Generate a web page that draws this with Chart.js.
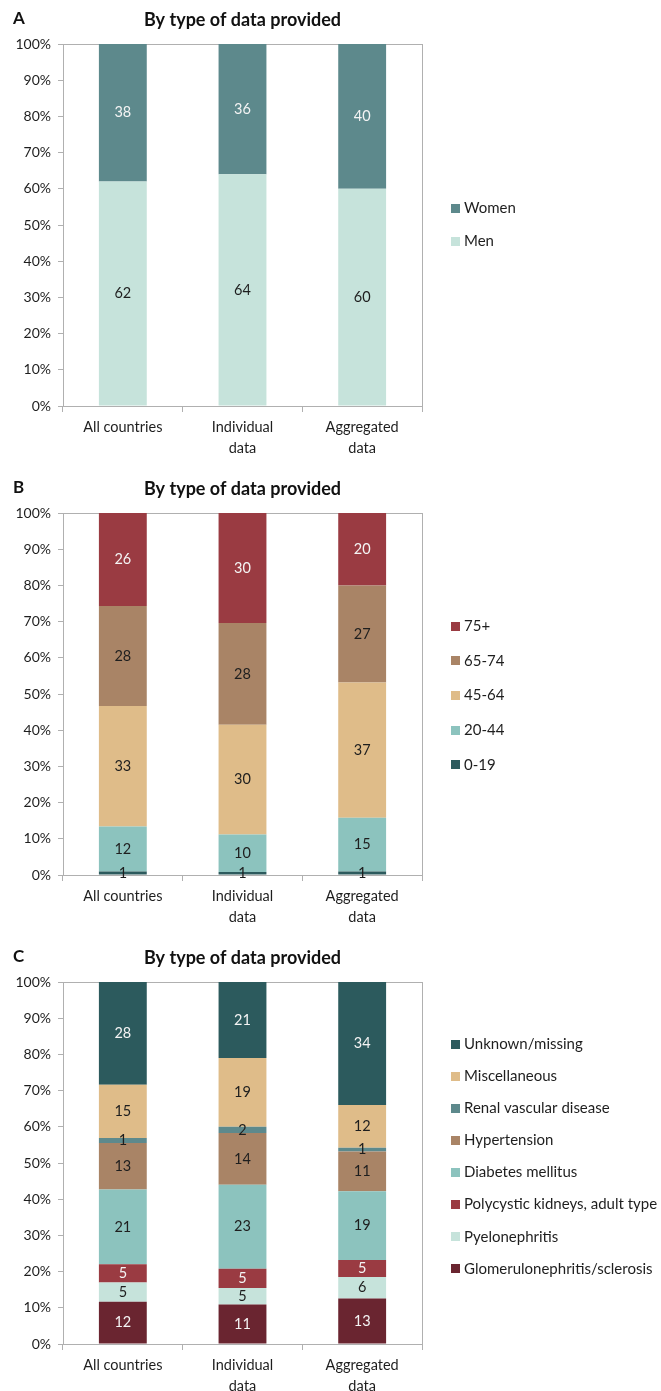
<!DOCTYPE html>
<html>
<head>
<meta charset="utf-8">
<script src="https://cdn.jsdelivr.net/npm/chart.js@4.4.0/dist/chart.umd.min.js"></script>
<style>
html, body { margin: 0; padding: 0; background: #fff; overflow: hidden; }
.panel { position: absolute; left: 0; width: 661px; height: 469px; }
</style>
</head>
<body>
<div class="panel" style="top:0px"><canvas id="chartA" width="661" height="469"></canvas></div>
<div class="panel" style="top:469px"><canvas id="chartB" width="661" height="469"></canvas></div>
<div class="panel" style="top:938px"><canvas id="chartC" width="661" height="469"></canvas></div>
<script>
// DATA
const categories = ['All countries', ['Individual', 'data'], ['Aggregated', 'data']];
const yTicks = [0, 10, 20, 30, 40, 50, 60, 70, 80, 90, 100];

// A - sex
const men = [62, 64, 60];
const women = [38, 36, 40];

// B - age groups
const age0_19 = [1.0, 0.8, 1.0];
const age20_44 = [12.4, 10.4, 14.8];
const age45_64 = [33.3, 30.3, 37.4];
const age65_74 = [27.6, 28.1, 26.8];
const age75plus = [25.7, 30.4, 20.0];

// C - primary renal disease
const glomerulo = [11.7, 10.9, 12.6];
const pyelo = [5.3, 4.6, 5.9];
const polycystic = [5.0, 5.3, 4.7];
const diabetes = [20.7, 23.2, 19.0];
const hypertension = [12.8, 14.3, 11.0];
const renalVascular = [1.4, 1.7, 1.0];
const misc = [14.7, 19.0, 11.8];
const unknown = [28.4, 21.0, 34.0];

// COLOURS
const DARK_TEAL = '#2c5a5d', GREY_TEAL = '#5d898c', TEAL = '#8cc3be', MINT = '#c6e3db';
const TAN = '#dfbc89', BROWN = '#a98466', RED = '#9a3b42', MAROON = '#6a2530';
const WHITE_TXT = '#f4f4f4', DARK_TXT = '#1e1e1e';
const FONT = 'Lato, "Noto Sans", sans-serif';
const AXIS = '#b0b0b0';

// panel letter, plot frame, bar labels and legend
const panelExtras = {
	id: 'panelExtras',
	beforeDatasetsDraw(chart) {
		const a = chart.chartArea, ctx = chart.ctx;
		ctx.save();
		ctx.strokeStyle = AXIS;
		ctx.lineWidth = 1;
		ctx.strokeRect(Math.round(a.left) + 0.5, Math.round(a.top) + 0.5,
			Math.round(a.right - a.left), Math.round(a.bottom - a.top));
		ctx.restore();
	},
	afterDatasetsDraw(chart, args, opts) {
		const ctx = chart.ctx;
		ctx.save();
		ctx.font = '14.5px ' + FONT;
		ctx.textAlign = 'center';
		ctx.textBaseline = 'middle';
		chart.data.datasets.forEach((ds, i) => {
			const meta = chart.getDatasetMeta(i);
			meta.data.forEach((bar, j) => {
				ctx.fillStyle = ds.textColor;
				ctx.fillText(String(Math.round(ds.data[j])), bar.x, (bar.y + bar.base) / 2);
			});
		});
		ctx.restore();
	},
	afterDraw(chart, args, opts) {
		const ctx = chart.ctx, a = chart.chartArea;
		ctx.save();
		// letter
		ctx.font = 'bold 17px ' + FONT;
		ctx.fillStyle = '#111';
		ctx.textBaseline = 'middle';
		ctx.textAlign = 'left';
		ctx.fillText(opts.letter, 13, opts.letterY);
		// legend, top of stack first
		const sets = chart.data.datasets.slice().reverse();
		const n = sets.length;
		const mid = (a.top + a.bottom) / 2 + opts.legendShift;
		ctx.font = '15px ' + FONT;
		sets.forEach((ds, k) => {
			const y = mid + (k - (n - 1) / 2) * opts.legendSpacing;
			ctx.fillStyle = ds.backgroundColor;
			ctx.fillRect(451, Math.round(y - 4.5), 9, 9);
			ctx.fillStyle = '#1e1e1e';
			ctx.fillText(ds.label, 464, y);
		});
		ctx.restore();
	}
};

function bar(label, data, color, textColor) {
	return {
		label: label,
		data: data,
		backgroundColor: color,
		textColor: textColor,
		borderWidth: 0,
		barPercentage: 0.4,
		categoryPercentage: 1.0
	};
}

function makeChart(id, letter, datasets, legendSpacing, legendShift) {
	const ctx = document.getElementById(id).getContext('2d');
	return new Chart(ctx, {
		type: 'bar',
		data: { labels: categories, datasets: datasets },
		options: {
			responsive: false,
			animation: false,
			devicePixelRatio: 1,
			layout: { padding: { left: 0, right: 239, top: 0, bottom: 0 } },
			plugins: {
				legend: { display: false },
				tooltip: { enabled: false },
				title: {
					display: true,
					text: 'By type of data provided',
					fullSize: false,
					color: '#111',
					font: { family: FONT, size: 18, weight: 'bold', lineHeight: 1.2 },
					padding: { top: 9, bottom: 13.4 }
				},
				panelExtras: { letter: letter, letterY: 19, legendSpacing: legendSpacing, legendShift: legendShift }
			},
			scales: {
				x: {
					stacked: true,
					grid: { drawOnChartArea: false, drawTicks: true, tickLength: 6, color: AXIS, offset: true },
					border: { color: AXIS },
					ticks: {
						color: DARK_TXT, padding: 5, maxRotation: 0, autoSkip: false,
						font: { family: FONT, size: 14.5, lineHeight: 1.45 }
					},
					afterFit(s) { s.height = 63; }
				},
				y: {
					stacked: true,
					min: 0,
					max: 100,
					afterBuildTicks(s) { s.ticks = yTicks.map(v => ({ value: v })); },
					grid: { drawOnChartArea: false, tickLength: 5, color: AXIS },
					border: { color: AXIS },
					ticks: {
						color: DARK_TXT, padding: 7,
						font: { family: FONT, size: 14 },
						callback: v => v + '%'
					},
					afterFit(s) { s.width = 63; }
				}
			}
		},
		plugins: [panelExtras]
	});
}

makeChart('chartA', 'A', [
	bar('Men', men, MINT, DARK_TXT),
	bar('Women', women, GREY_TEAL, WHITE_TXT)
], 33, 0);

makeChart('chartB', 'B', [
	bar('0-19', age0_19, DARK_TEAL, DARK_TXT),
	bar('20-44', age20_44, TEAL, DARK_TXT),
	bar('45-64', age45_64, TAN, DARK_TXT),
	bar('65-74', age65_74, BROWN, DARK_TXT),
	bar('75+', age75plus, RED, WHITE_TXT)
], 34.7, 1.5);

makeChart('chartC', 'C', [
	bar('Glomerulonephritis/sclerosis', glomerulo, MAROON, WHITE_TXT),
	bar('Pyelonephritis', pyelo, MINT, DARK_TXT),
	bar('Polycystic kidneys, adult type', polycystic, RED, WHITE_TXT),
	bar('Diabetes mellitus', diabetes, TEAL, DARK_TXT),
	bar('Hypertension', hypertension, BROWN, DARK_TXT),
	bar('Renal vascular disease', renalVascular, GREY_TEAL, DARK_TXT),
	bar('Miscellaneous', misc, TAN, DARK_TXT),
	bar('Unknown/missing', unknown, DARK_TEAL, WHITE_TXT)
], 32.1, -6.5);
</script>
</body>
</html>
